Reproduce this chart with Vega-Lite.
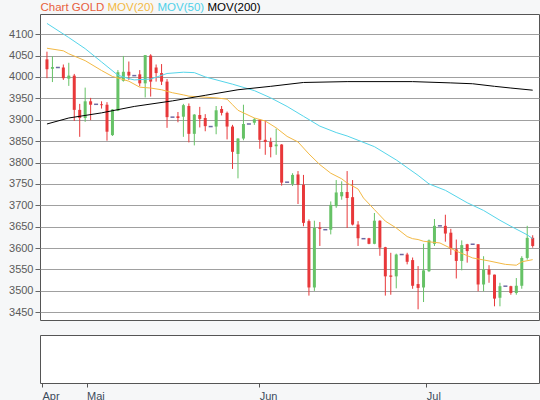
{
  "$schema": "https://vega.github.io/schema/vega-lite/v6.json",
  "autosize": {"type": "pad"},
  "padding": {"left": 8, "top": 2, "right": 0, "bottom": 0},
  "background": "#f6f7f8",
  "config": {
    "view": {"stroke": "#555555", "strokeWidth": 1, "fill": "white"},
    "font": "Liberation Sans",
    "concat": {"spacing": 13}
  },
  "datasets": {
    "candles": [
      {"day":0,"open":4041,"high":4059,"low":3997,"close":4018},
      {"day":1,"open":4019,"high":4048,"low":3988,"close":4023},
      {"day":2,"open":4022,"high":4022,"low":4022,"close":4022},
      {"day":3,"open":4022,"high":4029,"low":3993,"close":3997},
      {"day":4,"open":3996,"high":4033,"low":3979,"close":4003},
      {"day":5,"open":4003,"high":4007,"low":3897,"close":3923},
      {"day":6,"open":3923,"high":3937,"low":3860,"close":3904},
      {"day":7,"open":3904,"high":3975,"low":3895,"close":3943},
      {"day":8,"open":3943,"high":3951,"low":3899,"close":3935},
      {"day":9,"open":3936,"high":3936,"low":3936,"close":3936},
      {"day":10,"open":3936,"high":3943,"low":3926,"close":3934},
      {"day":11,"open":3935,"high":3941,"low":3851,"close":3872},
      {"day":12,"open":3864,"high":3925,"low":3862,"close":3924},
      {"day":13,"open":3921,"high":4016,"low":3920,"close":4011},
      {"day":14,"open":3991,"high":4049,"low":3989,"close":4012},
      {"day":15,"open":4012,"high":4036,"low":3993,"close":4003},
      {"day":16,"open":4003,"high":4003,"low":4003,"close":4003},
      {"day":17,"open":4006,"high":4016,"low":3978,"close":3985},
      {"day":18,"open":3985,"high":4051,"low":3952,"close":4051},
      {"day":19,"open":4050,"high":4053,"low":3954,"close":3989},
      {"day":20,"open":4022,"high":4029,"low":3989,"close":4009},
      {"day":21,"open":4009,"high":4030,"low":3981,"close":3989},
      {"day":22,"open":3989,"high":3995,"low":3881,"close":3906},
      {"day":23,"open":3906,"high":3906,"low":3906,"close":3906},
      {"day":24,"open":3908,"high":3918,"low":3894,"close":3904},
      {"day":25,"open":3907,"high":3937,"low":3860,"close":3934},
      {"day":26,"open":3932,"high":3938,"low":3847,"close":3867},
      {"day":27,"open":3867,"high":3913,"low":3840,"close":3912},
      {"day":28,"open":3911,"high":3930,"low":3882,"close":3902},
      {"day":29,"open":3904,"high":3913,"low":3873,"close":3885},
      {"day":30,"open":3884,"high":3884,"low":3884,"close":3884},
      {"day":31,"open":3884,"high":3932,"low":3866,"close":3922},
      {"day":32,"open":3925,"high":3932,"low":3910,"close":3916},
      {"day":33,"open":3916,"high":3919,"low":3854,"close":3884},
      {"day":34,"open":3884,"high":3888,"low":3785,"close":3825},
      {"day":35,"open":3820,"high":3857,"low":3763,"close":3856},
      {"day":36,"open":3856,"high":3935,"low":3852,"close":3890},
      {"day":37,"open":3890,"high":3890,"low":3890,"close":3890},
      {"day":38,"open":3893,"high":3904,"low":3888,"close":3901},
      {"day":39,"open":3900,"high":3901,"low":3832,"close":3853},
      {"day":40,"open":3853,"high":3898,"low":3818,"close":3848},
      {"day":41,"open":3848,"high":3858,"low":3812,"close":3836},
      {"day":42,"open":3838,"high":3879,"low":3818,"close":3842},
      {"day":43,"open":3842,"high":3843,"low":3746,"close":3753},
      {"day":44,"open":3754,"high":3754,"low":3754,"close":3754},
      {"day":45,"open":3750,"high":3775,"low":3745,"close":3771},
      {"day":46,"open":3772,"high":3780,"low":3703,"close":3748},
      {"day":47,"open":3748,"high":3771,"low":3651,"close":3659},
      {"day":48,"open":3663,"high":3667,"low":3489,"close":3508},
      {"day":49,"open":3508,"high":3664,"low":3500,"close":3647},
      {"day":50,"open":3648,"high":3661,"low":3605,"close":3645},
      {"day":51,"open":3643,"high":3643,"low":3643,"close":3643},
      {"day":52,"open":3643,"high":3709,"low":3632,"close":3701},
      {"day":53,"open":3698,"high":3759,"low":3694,"close":3730},
      {"day":54,"open":3721,"high":3756,"low":3713,"close":3731},
      {"day":55,"open":3731,"high":3780,"low":3647,"close":3717},
      {"day":56,"open":3719,"high":3759,"low":3653,"close":3655},
      {"day":57,"open":3655,"high":3663,"low":3605,"close":3623},
      {"day":58,"open":3622,"high":3622,"low":3622,"close":3622},
      {"day":59,"open":3623,"high":3624,"low":3609,"close":3610},
      {"day":60,"open":3610,"high":3682,"low":3609,"close":3664},
      {"day":61,"open":3664,"high":3665,"low":3582,"close":3601},
      {"day":62,"open":3602,"high":3603,"low":3489,"close":3534},
      {"day":63,"open":3536,"high":3589,"low":3491,"close":3533},
      {"day":64,"open":3534,"high":3587,"low":3506,"close":3585},
      {"day":65,"open":3585,"high":3585,"low":3585,"close":3585},
      {"day":66,"open":3585,"high":3589,"low":3562,"close":3568},
      {"day":67,"open":3572,"high":3578,"low":3505,"close":3512},
      {"day":68,"open":3516,"high":3558,"low":3457,"close":3507},
      {"day":69,"open":3508,"high":3610,"low":3474,"close":3548},
      {"day":70,"open":3546,"high":3620,"low":3544,"close":3618},
      {"day":71,"open":3610,"high":3668,"low":3605,"close":3652},
      {"day":72,"open":3652,"high":3652,"low":3652,"close":3652},
      {"day":73,"open":3652,"high":3678,"low":3615,"close":3634},
      {"day":74,"open":3636,"high":3645,"low":3584,"close":3598},
      {"day":75,"open":3597,"high":3620,"low":3529,"close":3570},
      {"day":76,"open":3570,"high":3618,"low":3548,"close":3607},
      {"day":77,"open":3609,"high":3610,"low":3566,"close":3593},
      {"day":78,"open":3609,"high":3609,"low":3609,"close":3609},
      {"day":79,"open":3609,"high":3609,"low":3499,"close":3515},
      {"day":80,"open":3515,"high":3581,"low":3499,"close":3550},
      {"day":81,"open":3550,"high":3560,"low":3519,"close":3538},
      {"day":82,"open":3538,"high":3538,"low":3464,"close":3482},
      {"day":83,"open":3484,"high":3519,"low":3464,"close":3511},
      {"day":84,"open":3511,"high":3511,"low":3511,"close":3511},
      {"day":85,"open":3511,"high":3512,"low":3491,"close":3495},
      {"day":86,"open":3495,"high":3530,"low":3491,"close":3512},
      {"day":87,"open":3512,"high":3581,"low":3505,"close":3577},
      {"day":88,"open":3577,"high":3652,"low":3573,"close":3624},
      {"day":89,"open":3624,"high":3630,"low":3601,"close":3605}
    ],
    "ma": [
      {"series":"ma20","day":0,"value":4067},{"series":"ma20","day":3,"value":4061},{"series":"ma20","day":4,"value":4054},
      {"series":"ma20","day":7,"value":4038},{"series":"ma20","day":10,"value":4015},{"series":"ma20","day":12,"value":4001},
      {"series":"ma20","day":15,"value":3990},{"series":"ma20","day":17,"value":3976},{"series":"ma20","day":19,"value":3974},
      {"series":"ma20","day":21,"value":3970},{"series":"ma20","day":23,"value":3963},{"series":"ma20","day":25,"value":3958},
      {"series":"ma20","day":26,"value":3955},{"series":"ma20","day":31,"value":3951},{"series":"ma20","day":33,"value":3948},
      {"series":"ma20","day":34,"value":3935},{"series":"ma20","day":35,"value":3922},{"series":"ma20","day":38,"value":3904},
      {"series":"ma20","day":40,"value":3897},{"series":"ma20","day":42,"value":3881},{"series":"ma20","day":44,"value":3861},
      {"series":"ma20","day":46,"value":3848},{"series":"ma20","day":48,"value":3820},{"series":"ma20","day":50,"value":3795},
      {"series":"ma20","day":52,"value":3775},{"series":"ma20","day":54,"value":3762},{"series":"ma20","day":55,"value":3752},
      {"series":"ma20","day":57,"value":3738},{"series":"ma20","day":58,"value":3717},{"series":"ma20","day":60,"value":3690},
      {"series":"ma20","day":62,"value":3663},{"series":"ma20","day":64,"value":3647},{"series":"ma20","day":66,"value":3627},
      {"series":"ma20","day":67,"value":3622},{"series":"ma20","day":68,"value":3620},{"series":"ma20","day":69,"value":3616},
      {"series":"ma20","day":72,"value":3612},{"series":"ma20","day":75,"value":3593},{"series":"ma20","day":78,"value":3577},
      {"series":"ma20","day":81,"value":3570},{"series":"ma20","day":84,"value":3562},{"series":"ma20","day":86,"value":3560},
      {"series":"ma20","day":87,"value":3568},{"series":"ma20","day":89,"value":3573},
      {"series":"ma50","day":0,"value":4125},{"series":"ma50","day":4,"value":4092},{"series":"ma50","day":7,"value":4066},
      {"series":"ma50","day":10,"value":4035},{"series":"ma50","day":13,"value":4004},{"series":"ma50","day":15,"value":3996},
      {"series":"ma50","day":16,"value":3993},{"series":"ma50","day":19,"value":3995},{"series":"ma50","day":22,"value":4008},
      {"series":"ma50","day":25,"value":4011},{"series":"ma50","day":27,"value":4010},{"series":"ma50","day":29,"value":4000},
      {"series":"ma50","day":34,"value":3983},{"series":"ma50","day":38,"value":3968},{"series":"ma50","day":41,"value":3951},
      {"series":"ma50","day":44,"value":3931},{"series":"ma50","day":47,"value":3908},{"series":"ma50","day":50,"value":3885},
      {"series":"ma50","day":53,"value":3870},{"series":"ma50","day":55,"value":3862},{"series":"ma50","day":57,"value":3852},
      {"series":"ma50","day":60,"value":3837},{"series":"ma50","day":64,"value":3806},{"series":"ma50","day":68,"value":3770},
      {"series":"ma50","day":70,"value":3750},{"series":"ma50","day":73,"value":3735},{"series":"ma50","day":77,"value":3706},
      {"series":"ma50","day":80,"value":3688},{"series":"ma50","day":83,"value":3665},{"series":"ma50","day":85,"value":3651},
      {"series":"ma50","day":88,"value":3631},{"series":"ma50","day":89,"value":3622},
      {"series":"ma200","day":0,"value":3890},{"series":"ma200","day":4,"value":3904},{"series":"ma200","day":10,"value":3916},
      {"series":"ma200","day":16,"value":3931},{"series":"ma200","day":23,"value":3944},{"series":"ma200","day":29,"value":3957},
      {"series":"ma200","day":35,"value":3970},{"series":"ma200","day":41,"value":3978},{"series":"ma200","day":47,"value":3987},
      {"series":"ma200","day":55,"value":3989},{"series":"ma200","day":67,"value":3989},{"series":"ma200","day":74,"value":3986},
      {"series":"ma200","day":78,"value":3984},{"series":"ma200","day":82,"value":3978},{"series":"ma200","day":85,"value":3974},
      {"series":"ma200","day":89,"value":3969}
    ]
  },
  "vconcat": [
    {
      "width": 499,
      "height": 306,
      "layer": [
        {
          "data": {"name": "candles"},
          "mark": {"type": "rule", "strokeWidth": 1},
          "encoding": {
            "x": {"field": "day", "type": "quantitative", "scale": {"domain": [-0.36, 89.24], "nice": false, "zero": false}, "axis": null},
            "y": {"field": "low", "type": "quantitative", "scale": {"domain": [3432, 4147], "nice": false, "zero": false},
              "axis": {"title": null, "values": [3450,3500,3550,3600,3650,3700,3750,3800,3850,3900,3950,4000,4050,4100], "tickCount": 20, "format": "d",
                "labelOverlap": false, "grid": true, "gridColor": "#a0a0a0", "gridWidth": 1, "domain": false, "tickColor": "#666666", "tickSize": 5,
                "labelColor": "#5a5a5a", "labelFontSize": 11, "labelFont": "Liberation Sans", "labelPadding": 2}},
            "y2": {"field": "high"},
            "color": {"condition": [{"test": "datum.close == datum.open", "value": "#2d2a7a"}, {"test": "datum.close > datum.open", "value": "#66c266"}], "value": "#e8383a"}
          }
        },
        {
          "data": {"name": "candles"},
          "transform": [{"filter": "datum.close != datum.open"}],
          "mark": {"type": "bar", "size": 3},
          "encoding": {
            "x": {"field": "day", "type": "quantitative"},
            "y": {"field": "open", "type": "quantitative"},
            "y2": {"field": "close"},
            "color": {"condition": {"test": "datum.close > datum.open", "value": "#66c266"}, "value": "#e8383a"}
          }
        },
        {
          "data": {"name": "candles"},
          "transform": [{"filter": "datum.close == datum.open"}],
          "mark": {"type": "tick", "orient": "horizontal", "size": 4, "thickness": 1.5, "color": "#2d2a7a"},
          "encoding": {
            "x": {"field": "day", "type": "quantitative"},
            "y": {"field": "close", "type": "quantitative"}
          }
        },
        {
          "data": {"name": "ma"},
          "mark": {"type": "line", "strokeWidth": 1},
          "encoding": {
            "x": {"field": "day", "type": "quantitative"},
            "y": {"field": "value", "type": "quantitative"},
            "color": {"field": "series", "type": "nominal",
              "scale": {"domain": ["gold", "ma20", "ma50", "ma200"], "range": ["#e8603c", "#f3b944", "#55d5ea", "#000000"]},
              "legend": {"orient": "none", "legendX": 0, "legendY": -12, "direction": "horizontal", "title": null,
                "symbolSize": 0, "symbolStrokeWidth": 0, "symbolOpacity": 0, "labelOffset": -11, "columnPadding": 2, "padding": 0,
                "labelFontSize": 11.5, "labelFont": "Liberation Sans",
                "labelExpr": "datum.value == 'gold' ? 'Chart GOLD' : datum.value == 'ma20' ? 'MOV(20)' : datum.value == 'ma50' ? 'MOV(50)' : 'MOV(200)'",
                "encode": {"labels": {"update": {"fill": {"signal": "datum.value == 'gold' ? '#e8603c' : datum.value == 'ma20' ? '#f3b944' : datum.value == 'ma50' ? '#4fd0e8' : '#000000'"}}}}}
            },
            "detail": {"field": "series"}
          }
        }
      ]
    },
    {
      "width": 499,
      "height": 48,
      "data": {"name": "candles"},
      "mark": {"type": "rule", "opacity": 0},
      "encoding": {
        "x": {"field": "day", "type": "quantitative", "scale": {"domain": [-0.36, 89.24], "nice": false, "zero": false},
          "axis": {"title": null, "values": [0, 8, 39, 69], "tickCount": 10,
            "labelExpr": "datum.value == 0 ? 'Apr' : datum.value == 8 ? 'Mai' : datum.value == 39 ? 'Jun' : 'Jul'",
            "grid": false, "domain": false, "tickColor": "#555555", "tickSize": 4, "labelAlign": "left", "labelColor": "#3d4b5c",
            "labelFontSize": 11, "labelFont": "Liberation Sans", "labelPadding": 3, "labelFlush": false}}
      }
    }
  ]
}
